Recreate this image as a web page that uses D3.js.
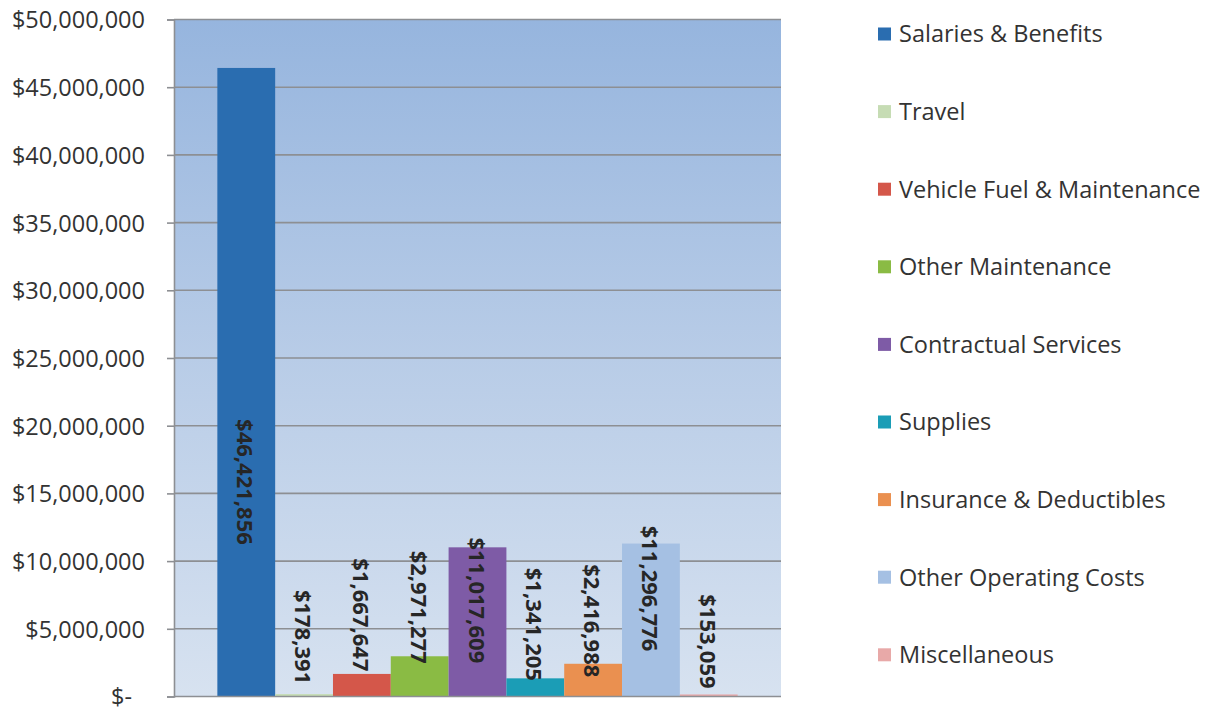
<!DOCTYPE html>
<html>
<head>
<meta charset="utf-8">
<script src="https://cdn.jsdelivr.net/npm/d3@7"></script>
<style>
  html, body { margin: 0; padding: 0; background: #ffffff; }
  svg { display: block; }
  text { font-family: "Open Sans", "Noto Sans", sans-serif; }
</style>
</head>
<body>
<svg id="chart" width="1209" height="711"></svg>
<script>
// Expense categories and their totals
const categories = [
  "Salaries & Benefits",
  "Travel",
  "Vehicle Fuel & Maintenance",
  "Other Maintenance",
  "Contractual Services",
  "Supplies",
  "Insurance & Deductibles",
  "Other Operating Costs",
  "Miscellaneous"
];
const amounts = [46421856, 178391, 1667647, 2971277, 11017609, 1341205, 2416988, 11296776, 153059];
const valueLabels = ["$46,421,856", "$178,391", "$1,667,647", "$2,971,277", "$11,017,609",
                     "$1,341,205", "$2,416,988", "$11,296,776", "$153,059"];
const yTickValues = [0, 5e6, 10e6, 15e6, 20e6, 25e6, 30e6, 35e6, 40e6, 45e6, 50e6];
const yTickLabels = ["$-", "$5,000,000", "$10,000,000", "$15,000,000", "$20,000,000", "$25,000,000",
                     "$30,000,000", "$35,000,000", "$40,000,000", "$45,000,000", "$50,000,000"];

// Series colours
const colors = ["#2a6db0", "#c6dcb4", "#d4574a", "#8abb44", "#7e5ba6",
                "#1b9db6", "#ea9050", "#a5c0e3", "#e8a9a8"];

// Label centre offset from each bar's top edge (px, positive = downward)
const labelNudge = [414, -57, -59, -49, 53, -54, -43, 45, -53];

const svg = d3.select("#chart");
const plot = { left: 174, right: 781, top: 19.5, bottom: 696.5 };

// Plot background gradient
const defs = svg.append("defs");
const grad = defs.append("linearGradient").attr("id", "bg").attr("x1", 0).attr("y1", 0).attr("x2", 0).attr("y2", 1);
grad.append("stop").attr("offset", "0%").attr("stop-color", "#96b5de");
grad.append("stop").attr("offset", "50%").attr("stop-color", "#b8cce7");
grad.append("stop").attr("offset", "100%").attr("stop-color", "#d7e2f0");

svg.append("rect")
  .attr("x", plot.left).attr("y", plot.top)
  .attr("width", plot.right - plot.left).attr("height", plot.bottom - plot.top)
  .attr("fill", "url(#bg)");

const y = d3.scaleLinear().domain([0, 50e6]).range([plot.bottom, plot.top]);

// One category band holding all series side by side (gap width 150%)
const x0 = d3.scaleBand().domain(["Expenses"]).range([plot.left, plot.right])
  .paddingInner(0).paddingOuter(0.75 / 9);
const x1 = d3.scaleBand().domain(categories).range([0, x0.bandwidth()]).padding(0);

// Gridlines
svg.append("g").selectAll("line")
  .data(yTickValues.filter(v => v > 0))
  .join("line")
  .attr("x1", plot.left).attr("x2", plot.right)
  .attr("y1", d => y(d)).attr("y2", d => y(d))
  .attr("stroke", "#8d8f93").attr("stroke-width", 1.6);

// Bars
const bars = categories.map((c, i) => ({ name: c, value: amounts[i], label: valueLabels[i], color: colors[i], i }));
const gx = x0("Expenses");
svg.append("g").selectAll("rect")
  .data(bars)
  .join("rect")
  .attr("x", d => gx + x1(d.name))
  .attr("y", d => y(d.value))
  .attr("width", x1.bandwidth())
  .attr("height", d => y(0) - y(d.value))
  .attr("fill", d => d.color);

// Y axis
const yAxis = d3.axisLeft(y)
  .tickValues(yTickValues)
  .tickSize(7)
  .tickPadding(22)
  .tickFormat((d, i) => yTickLabels[i]);
const ga = svg.append("g").attr("transform", `translate(${plot.left},0)`).call(yAxis);
ga.select(".domain").attr("stroke", "#8d8f93").attr("stroke-width", 1.6);
ga.selectAll(".tick line").attr("stroke", "#8d8f93").attr("stroke-width", 1.6);
ga.selectAll(".tick text")
  .attr("fill", "#333333")
  .style("font-size", "23.5px")
  .attr("dy", "0.36em")
  .attr("dx", d => d === 0 ? -13 : 0);

// Baseline
svg.append("line")
  .attr("x1", plot.left).attr("x2", plot.right)
  .attr("y1", y(0)).attr("y2", y(0))
  .attr("stroke", "#8d8f93").attr("stroke-width", 1.6);

// Rotated value labels
svg.append("g").selectAll("text")
  .data(bars)
  .join("text")
  .attr("transform", d => `translate(${gx + x1(d.name) + x1.bandwidth() / 2},${y(d.value) + labelNudge[d.i]}) rotate(90)`)
  .attr("text-anchor", "middle")
  .attr("dominant-baseline", "central")
  .attr("fill", "#262626")
  .style("font-size", "22px")
  .style("font-weight", "700")
  .text(d => d.label);

// Legend
const legend = svg.append("g").attr("transform", "translate(878,0)");
const rows = legend.selectAll("g")
  .data(bars)
  .join("g")
  .attr("transform", d => `translate(0,${34 + d.i * 77.6})`);
rows.append("rect")
  .attr("x", 0).attr("y", -6.5)
  .attr("width", 13).attr("height", 13)
  .attr("fill", d => d.color);
rows.append("text")
  .attr("x", 21).attr("y", 0)
  .attr("dy", "0.36em")
  .attr("fill", "#333333")
  .style("font-size", "23.5px")
  .text(d => d.name);
</script>
</body>
</html>
